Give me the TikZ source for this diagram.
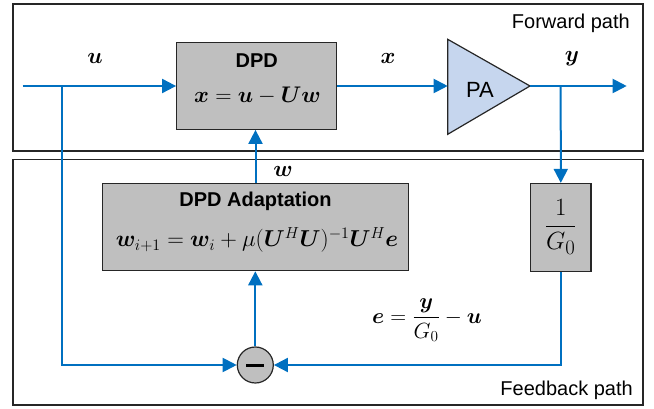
\documentclass[tikz,border=0pt]{standalone}
\usepackage{amsmath}
\usepackage{bm}
\usepackage[no-math]{fontspec}
\setmainfont{Liberation Sans}
\usetikzlibrary{arrows.meta}

\definecolor{sigblue}{HTML}{0070C0}
\definecolor{boxgray}{HTML}{BFBFBF}
\definecolor{pablue}{HTML}{C6D6EE}

% math set at the largest design size, then enlarged a little
\newcommand{\bigmath}[1]{\scalebox{1.09}{$#1$}}

\begin{document}
\begin{tikzpicture}[x=1pt,y=-1pt,
  frame/.style={draw=black!85, line width=1.2pt},
  blockbox/.style={draw=black!85, fill=boxgray, line width=1.2pt, inner sep=0pt},
  sig/.style={draw=sigblue, line width=2pt},
  sigarrow/.style={sig, -{Triangle[length=14pt,width=14pt]}},
  txt/.style={font=\fontsize{20}{24}\selectfont, inner sep=0pt},
  mth/.style={font=\fontsize{20.74}{25}\selectfont, inner sep=0pt}]

\useasboundingbox (0,0) rectangle (654,409);

% path frames
\draw[frame] (13,4) rectangle (643,151);
\draw[frame] (13,159.5) rectangle (643,405);
\node[txt, anchor=base east] (fwd) at (630,29) {Forward path};
\node[txt, anchor=base east] (fbk) at (633,395) {Feedback path};

% blocks
\node[blockbox, minimum width=160pt, minimum height=86.6pt] (dpd) at (256.7,86) {};
\node[txt, font=\fontsize{20}{24}\selectfont\bfseries] (dpdt) at (256.7,60.5) {DPD};
\node[mth] (dpde) at (257.5,96) {\bigmath{\bm{x}=\bm{u}-\bm{U}\bm{w}}};

\node[blockbox, minimum width=305.6pt, minimum height=87.4pt] (adapt) at (255.5,227) {};
\node[txt, font=\fontsize{20}{24}\selectfont\bfseries] (adaptt) at (255.5,201.5) {DPD Adaptation};
\node[mth] (adapte) at (257,240) {\scalebox{1.11}{$\bm{w}_{i+1}=\bm{w}_i+\mu(\bm{U}^H\bm{U})^{-1}\bm{U}^H\bm{e}$}};

\node[blockbox, minimum width=60.3pt, minimum height=88pt] (gain) at (560.8,227.5) {};
\node[mth, font=\fontsize{24.88}{29}\selectfont] (gaint) at (560.8,227) {$\dfrac{1}{G_0}$};

% power amplifier
\coordinate (paL) at (447.7,86);
\coordinate (paR) at (530,86);
\draw[draw=black!85, fill=pablue, line width=1.2pt]
  (447.7,39.3) -- (paR) -- (447.7,134.3) -- cycle;
\node[txt, font=\fontsize{22}{26}\selectfont] (pa) at (480,90) {PA};

% subtractor
\node[circle, draw=black!85, fill=boxgray, line width=1.2pt, minimum size=36pt, inner sep=0pt] (sub) at (255.3,365) {};
\draw[line width=3pt] ([xshift=-9pt]sub.center) -- ([xshift=9pt]sub.center);

% signal flow
\coordinate (in) at (22.7,86);
\coordinate (j1) at (61.7,86);
\coordinate (j2) at (560.7,86);
\coordinate (out) at (626.7,86);

\draw[sigarrow] (in) -- (dpd.west);
\draw[sigarrow] (dpd.east) -- (paL);
\draw[sigarrow] (paR) -- (out);
\draw[sigarrow] (j2) -- (gain.north);
\draw[sigarrow] (adapt.north) -- (adapt.north |- dpd.south);
\draw[sigarrow] (sub.north) -- (sub.north |- adapt.south);
\draw[sigarrow] (j1) |- (sub.west);
\draw[sigarrow] (gain.south) |- (sub.east);

% signal labels
\node[mth] (lu) at (95,58) {\bigmath{\bm{u}}};
\node[mth] (lx) at (388,58) {\bigmath{\bm{x}}};
\node[mth] (ly) at (572,59) {\bigmath{\bm{y}}};
\node[mth] (lw) at (283,171) {\bigmath{\bm{w}}};
\node[mth] (le) at (427,320) {\scalebox{1.06}{$\bm{e}=\dfrac{\bm{y}}{G_0}-\bm{u}$}};

\end{tikzpicture}
\end{document}
